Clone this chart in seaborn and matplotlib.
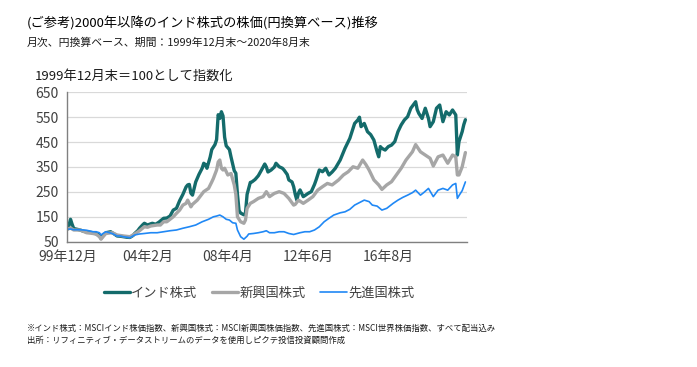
import numpy as np
import pandas as pd
import matplotlib
matplotlib.use("Agg")
import matplotlib.pyplot as plt
import seaborn as sns

# ---- data (months since 1999-12, index values, 1999-12 = 100) ----
india_month = [0, 1, 2, 3, 4, 6, 8, 10, 12, 14, 16, 18, 20, 21, 22, 24, 27, 29, 31, 33, 35, 37, 39, 41, 42, 44, 45, 47, 48, 50,
               52, 53, 55, 57, 60, 62, 64, 66, 68, 70, 72, 74, 75, 76, 77, 78, 80, 82, 84, 85, 86, 87, 89, 90, 92, 93, 94, 95, 96, 97,
               98, 99, 101, 102, 104, 105, 106, 107, 108, 110, 111, 112, 114, 115, 117, 119, 121, 123, 124, 125, 127, 129, 130, 132,
               134, 135, 137, 138, 140, 141, 142, 143, 144, 145, 147, 148, 150, 152, 154, 155, 157, 159, 161, 163, 165, 167, 170, 173,
               176, 179, 181, 182, 183, 185, 187, 189, 191, 193, 194, 195, 196, 198, 200, 202, 204, 206, 208, 210, 212, 214, 217, 218,
               219, 221, 223, 225, 226, 228, 230, 232, 234, 236, 238, 240, 242, 243, 244, 246, 247, 248]
india_value = [100, 115, 140, 120, 103, 100, 97, 92, 90, 88, 86, 82, 77, 63, 72, 86, 90, 82, 73, 72, 70, 68, 67, 75, 83, 95, 104, 118, 124, 117,
               122, 124, 120, 128, 144, 145, 153, 177, 184, 215, 240, 270, 278, 280, 245, 237, 290, 320, 345, 365, 360, 345, 390, 420, 440, 460, 560, 545, 572, 555,
               470, 435, 420, 390, 335, 325, 240, 175, 165, 158, 165, 240, 288, 290, 300, 315, 338, 362, 350, 330, 338, 350, 365, 351,
               345, 338, 320, 298, 290, 271, 240, 217, 245, 258, 231, 235, 244, 251, 280, 298, 338, 331, 345, 318, 330, 345, 378, 425,
               465, 525, 539, 550, 512, 525, 492, 480, 458, 411, 391, 432, 425, 418, 432, 438, 452, 492, 519, 539, 552, 586, 612, 580,
               565, 545, 586, 545, 512, 532, 586, 599, 532, 572, 559, 579, 559, 398, 452, 492, 520, 540]

em_month = [0, 2, 4, 8, 12, 16, 18, 20, 21, 22, 24, 28, 31, 35, 39, 42, 45, 48, 50, 52, 56, 58, 60, 62, 64, 66, 68, 70, 72, 74,
            75, 77, 78, 81, 85, 88, 90, 91, 93, 94, 95, 96, 97, 98, 100, 102, 104, 105, 106, 108, 110, 111, 112, 114, 116, 119, 122,
            124, 126, 129, 132, 135, 138, 141, 142, 144, 147, 150, 153, 156, 159, 162, 165, 169, 172, 175, 178, 181, 184, 186, 188,
            191, 194, 196, 199, 202, 205, 208, 211, 215, 217, 220, 223, 226, 228, 231, 234, 237, 240, 242, 243, 244, 246, 248]
em_value = [100, 105, 97, 97, 86, 83, 80, 70, 60, 68, 83, 86, 77, 73, 70, 81, 94, 110, 108, 113, 117, 117, 130, 130, 140, 150, 164, 177, 197, 204,
            217, 190, 200, 217, 251, 264, 290, 304, 338, 370, 378, 345, 338, 345, 318, 324, 278, 240, 150, 130, 124, 137, 184, 204, 211, 224, 231,
            251, 231, 244, 251, 244, 224, 197, 200, 217, 204, 217, 231, 257, 271, 284, 278, 298, 318, 331, 351, 345, 378, 360, 338,
            298, 278, 260, 278, 291, 318, 345, 378, 411, 440, 411, 398, 385, 354, 391, 398, 365, 398, 391, 318, 318, 351, 408]

dm_month = [0, 2, 4, 8, 12, 16, 18, 20, 21, 22, 24, 28, 31, 33, 35, 39, 42, 45, 48, 52, 56, 60, 64, 68, 72, 76, 80, 84, 88, 91,
            93, 95, 97, 99, 101, 103, 105, 106, 108, 110, 112, 113, 116, 119, 122, 124, 126, 129, 132, 135, 138, 141, 145, 148, 151,
            154, 157, 160, 163, 166, 170, 173, 176, 179, 182, 185, 188, 190, 193, 196, 199, 203, 206, 209, 212, 215, 217, 220, 222,
            225, 228, 231, 234, 237, 240, 242, 243, 244, 246, 248]
dm_value = [100, 101, 98, 98, 96, 90, 90, 86, 77, 82, 90, 83, 73, 73, 70, 66, 77, 81, 83, 86, 86, 90, 94, 97, 104, 110, 117, 130, 140, 150,
            153, 157, 150, 140, 137, 126, 124, 97, 70, 60, 72, 81, 83, 86, 90, 94, 86, 86, 90, 90, 83, 79, 86, 90, 90,
            97, 110, 130, 144, 157, 166, 170, 180, 197, 207, 217, 211, 197, 193, 177, 184, 204, 217, 228, 237, 247, 257, 237, 247,
            264, 231, 257, 264, 257, 278, 284, 224, 235, 255, 290]

series_names = ["インド株式", "新興国株式", "先進国株式"]
yticks = [50, 150, 250, 350, 450, 550, 650]
xtick_months = [0, 50, 100, 150, 200]
xtick_labels = ["99年12月", "04年2月", "08年4月", "12年6月", "16年8月"]

# ---- build long-form table ----
frames = []
for name, m, v in zip(series_names, [india_month, em_month, dm_month], [india_value, em_value, dm_value]):
    frames.append(pd.DataFrame({"month": m, "value": v, "series": name}))
df = pd.concat(frames, ignore_index=True)

sns.set_theme(style="white")
plt.rcParams["font.family"] = ["Noto Sans CJK JP", "DejaVu Sans"]

fig = plt.figure(figsize=(6.97, 3.67), dpi=100)
ax = fig.add_axes([67.3 / 697, 1 - 241.7 / 367, (467 - 67.3) / 697, (241.7 - 92.3) / 367])

palette = {"インド株式": "#146b6b", "新興国株式": "#a6a6a6", "先進国株式": "#2088f5"}
sizes = {"インド株式": 2.4, "新興国株式": 2.4, "先進国株式": 1.2}
for name in series_names:
    sub = df[df["series"] == name]
    sns.lineplot(data=sub, x="month", y="value", color=palette[name], lw=sizes[name],
                 ax=ax, label=name, estimator=None, sort=True)

ax.set_xlim(0, 249)
ax.set_ylim(50, 650)
ax.set_yticks(yticks)
ax.set_xticks(xtick_months)
ax.set_xticklabels(xtick_labels)
ax.set_xlabel("")
ax.set_ylabel("")
ax.grid(axis="y", color="#d9d9d9", lw=0.9)
ax.set_axisbelow(True)
for s in ["top", "right"]:
    ax.spines[s].set_visible(False)
for s in ["left", "bottom"]:
    ax.spines[s].set_color("#808080")
    ax.spines[s].set_linewidth(1.0)
ax.tick_params(axis="both", which="both", length=4, width=0.9, color="#808080",
               labelsize=10, labelcolor="#404040", direction="out", pad=2)

leg = ax.legend(loc="center", bbox_to_anchor=(259 / 697, 1 - 293 / 367), bbox_transform=fig.transFigure,
                ncol=3, frameon=False, fontsize=9.5, handlelength=2.0, handletextpad=0.1,
                columnspacing=1.1, borderaxespad=0)
for t in leg.get_texts():
    t.set_color("#404040")

fig.text(27 / 697, 1 - 24 / 367, "(ご参考)2000年以降のインド株式の株価(円換算ベース)推移",
         fontsize=9.5, color="#000000", va="center", ha="left")
fig.text(27 / 697, 1 - 43 / 367, "月次、円換算ベース、期間：1999年12月末～2020年8月末",
         fontsize=7.8, color="#1a1a1a", va="center", ha="left")
fig.text(35 / 697, 1 - 76 / 367, "1999年12月末＝100として指数化",
         fontsize=9.5, color="#1a1a1a", va="center", ha="left")
fig.text(27 / 697, 1 - 328 / 367,
         "※インド株式：MSCIインド株価指数、新興国株式：MSCI新興国株価指数、先進国株式：MSCI世界株価指数、すべて配当込み",
         fontsize=6.0, color="#1a1a1a", va="center", ha="left")
fig.text(27 / 697, 1 - 340 / 367,
         "出所：リフィニティブ・データストリームのデータを使用しピクテ投信投資顧問作成",
         fontsize=6.0, color="#1a1a1a", va="center", ha="left")

fig.savefig("out.png", dpi=100, facecolor="white")
